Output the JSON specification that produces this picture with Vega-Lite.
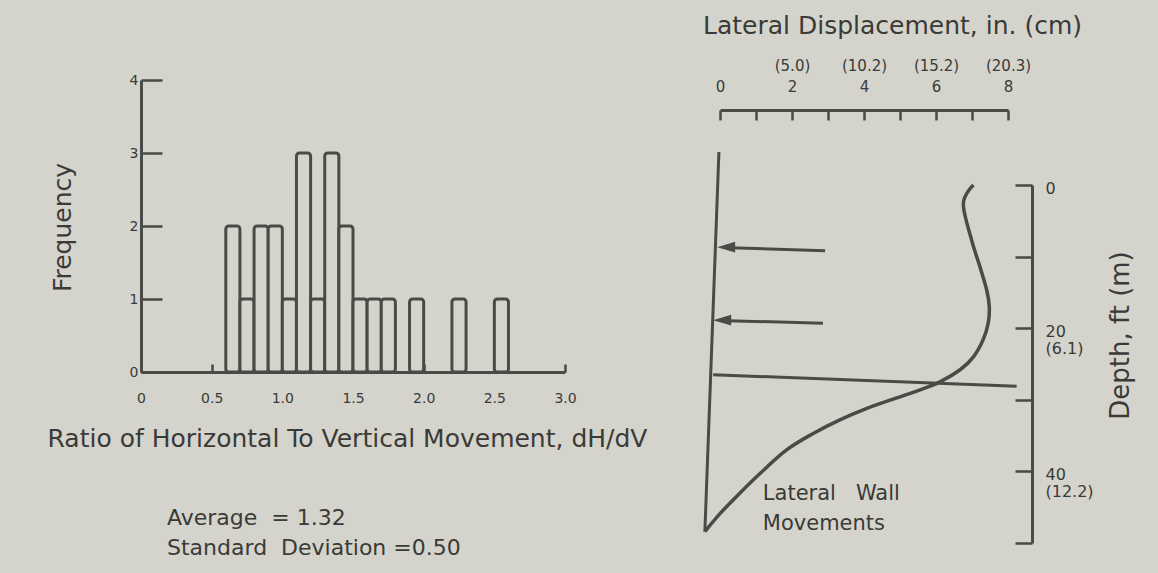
{
  "$schema": "https://vega.github.io/schema/vega-lite/v6.json",
  "width": 867,
  "height": 463,
  "autosize": "none",
  "padding": {"left": 141, "top": 80, "right": 150, "bottom": 30},
  "background": "#d4d4cc",
  "config": {
    "view": {"stroke": null},
    "font": "DejaVu Sans",
    "axis": {
      "grid": false,
      "domainColor": "#4a4a46",
      "domainWidth": 3,
      "tickColor": "#4a4a46",
      "tickWidth": 2.5,
      "labelColor": "#3a3a37",
      "titleColor": "#3a3a37",
      "labelFont": "DejaVu Sans",
      "titleFont": "DejaVu Sans",
      "labelFlush": false,
      "labelOverlap": false,
      "titleFontWeight": "normal"
    }
  },
  "datasets": {
    "bins": [
      {"lo": 0.6, "hi": 0.7, "freq": 2},
      {"lo": 0.7, "hi": 0.8, "freq": 1},
      {"lo": 0.8, "hi": 0.9, "freq": 2},
      {"lo": 0.9, "hi": 1.0, "freq": 2},
      {"lo": 1.0, "hi": 1.1, "freq": 1},
      {"lo": 1.1, "hi": 1.2, "freq": 3},
      {"lo": 1.2, "hi": 1.3, "freq": 1},
      {"lo": 1.3, "hi": 1.4, "freq": 3},
      {"lo": 1.4, "hi": 1.5, "freq": 2},
      {"lo": 1.5, "hi": 1.6, "freq": 1},
      {"lo": 1.6, "hi": 1.7, "freq": 1},
      {"lo": 1.7, "hi": 1.8, "freq": 1},
      {"lo": 1.9, "hi": 2.0, "freq": 1},
      {"lo": 2.2, "hi": 2.3, "freq": 1},
      {"lo": 2.5, "hi": 2.6, "freq": 1}
    ],
    "profile": [
      {"disp": 7.04, "depth": 0},
      {"disp": 6.76, "depth": 2.6},
      {"disp": 6.99, "depth": 7.7},
      {"disp": 7.22, "depth": 11.4},
      {"disp": 7.41, "depth": 14.7},
      {"disp": 7.48, "depth": 17.0},
      {"disp": 7.45, "depth": 19.3},
      {"disp": 7.31, "depth": 21.6},
      {"disp": 7.04, "depth": 24.0},
      {"disp": 6.67, "depth": 25.8},
      {"disp": 6.11, "depth": 27.5},
      {"disp": 5.56, "depth": 28.6},
      {"disp": 4.81, "depth": 29.9},
      {"disp": 4.08, "depth": 31.2},
      {"disp": 3.33, "depth": 32.8},
      {"disp": 2.59, "depth": 34.7},
      {"disp": 1.85, "depth": 37.0},
      {"disp": 1.11, "depth": 40.3},
      {"disp": 0.46, "depth": 43.5},
      {"disp": 0.0, "depth": 45.9},
      {"disp": -0.42, "depth": 48.4}
    ],
    "lines": [
      {"part": "wall", "disp": -0.03, "depth": -4.6, "disp2": -0.42, "depth2": 48.4},
      {"part": "excavation", "disp": -0.19, "depth": 26.5, "disp2": 8.24, "depth2": 28.1},
      {"part": "arrow 1", "disp": 2.92, "depth": 9.2, "disp2": 0.3, "depth2": 8.75},
      {"part": "arrow 2", "disp": 2.86, "depth": 19.3, "disp2": 0.2, "depth2": 18.95}
    ],
    "heads": [
      {"disp": 0.17, "depth": 8.68},
      {"disp": 0.06, "depth": 18.88}
    ]
  },
  "layer": [
    {
      "layer": [
        {
          "data": {"name": "bins"},
          "mark": {"type": "bar", "fill": "#d4d4cc", "stroke": "#4a4a46", "strokeWidth": 3, "cornerRadius": 3},
          "encoding": {
            "x": {
              "field": "lo", "type": "quantitative",
              "scale": {"domain": [0, 3], "range": [0, 424], "nice": false},
              "axis": {
                "orient": "bottom", "offset": -171,
                "values": [0, 0.5, 1, 1.5, 2, 2.5, 3],
                "labelExpr": "datum.value == 0 ? '0' : format(datum.value, '.1f')",
                "tickSize": -8, "labelPadding": 27, "labelFontSize": 14,
                "title": "Ratio of Horizontal To Vertical Movement, dH/dV",
                "titleFontSize": 25, "titleX": 206, "titleY": 66,
                "titleAlign": "center", "titleBaseline": "middle"
              }
            },
            "x2": {"field": "hi"},
            "y": {
              "field": "freq", "type": "quantitative",
              "scale": {"domain": [0, 4], "range": [292, 0], "nice": false},
              "axis": {
                "orient": "left",
                "values": [0, 1, 2, 3, 4],
                "format": "d",
                "tickSize": -21, "labelPadding": 24, "labelFontSize": 14,
                "title": "Frequency",
                "titleFontSize": 25, "titleX": -79, "titleY": 147,
                "titleAngle": 270, "titleAlign": "center", "titleBaseline": "middle"
              }
            },
            "y2": {"datum": 0}
          }
        },
        {
          "data": {"values": [{"note": "stats"}]},
          "mark": {
            "type": "text", "align": "left", "baseline": "middle",
            "fontSize": 22, "lineHeight": 30, "color": "#3a3a37",
            "text": ["Average\u00a0\u00a0= 1.32", "Standard\u00a0\u00a0Deviation =0.50"]
          },
          "encoding": {
            "x": {"datum": 0.184, "type": "quantitative"},
            "y": {"datum": -2.0, "type": "quantitative"}
          }
        }
      ]
    },
    {
      "layer": [
        {
          "data": {"name": "profile"},
          "mark": {"type": "line", "interpolate": "cardinal", "stroke": "#4a4a46", "strokeWidth": 3.5},
          "encoding": {
            "x": {
              "field": "disp", "type": "quantitative",
              "scale": {"domain": [0, 8], "range": [579, 867], "nice": false, "zero": false},
              "axis": {
                "orient": "top", "offset": -30,
                "values": [0, 1, 2, 3, 4, 5, 6, 7, 8],
                "labelExpr": "datum.value == 0 ? ['', '0'] : datum.value == 2 ? ['(5.0)', '2'] : datum.value == 4 ? ['(10.2)', '4'] : datum.value == 6 ? ['(15.2)', '6'] : datum.value == 8 ? ['(20.3)', '8'] : ''",
                "tickSize": -10, "labelPadding": 47, "labelFontSize": 15, "labelLineHeight": 21,
                "title": "Lateral Displacement, in. (cm)",
                "titleFontSize": 25, "titleX": 751, "titleY": -85,
                "titleAlign": "center", "titleBaseline": "middle"
              }
            },
            "y": {
              "field": "depth", "type": "quantitative",
              "scale": {"domain": [0, 50], "range": [105, 463], "nice": false},
              "axis": {
                "orient": "right", "offset": 24,
                "values": [0, 10, 20, 30, 40, 50],
                "labelExpr": "datum.value == 0 ? '0' : datum.value == 20 ? ['20', '(6.1)'] : datum.value == 40 ? ['40', '(12.2)'] : ''",
                "tickSize": -17, "labelPadding": 30, "labelFontSize": 16, "labelLineHeight": 17,
                "labelBaseline": "top", "labelOffset": -5,
                "title": "Depth, ft (m)",
                "titleFontSize": 26, "titleX": 88, "titleY": 255,
                "titleAngle": 270, "titleAlign": "center", "titleBaseline": "middle"
              }
            },
            "order": {"field": "depth", "type": "quantitative"}
          }
        },
        {
          "data": {"name": "lines"},
          "mark": {"type": "rule", "stroke": "#4a4a46", "strokeWidth": 3},
          "encoding": {
            "x": {"field": "disp", "type": "quantitative"},
            "y": {"field": "depth", "type": "quantitative"},
            "x2": {"field": "disp2"},
            "y2": {"field": "depth2"}
          }
        },
        {
          "data": {"name": "heads"},
          "mark": {"type": "point", "shape": "M-1,0L1,-0.6L1,0.6Z", "size": 324, "filled": true, "opacity": 1, "color": "#4a4a46"},
          "encoding": {
            "x": {"field": "disp", "type": "quantitative"},
            "y": {"field": "depth", "type": "quantitative"}
          }
        },
        {
          "data": {"values": [{"note": "label"}]},
          "mark": {
            "type": "text", "align": "left", "baseline": "middle",
            "fontSize": 21, "lineHeight": 30, "color": "#3a3a37",
            "text": ["Lateral\u00a0\u00a0\u00a0Wall", "Movements"]
          },
          "encoding": {
            "x": {"datum": 1.19, "type": "quantitative"},
            "y": {"datum": 43.15, "type": "quantitative"}
          }
        }
      ]
    }
  ],
  "resolve": {
    "scale": {"x": "independent", "y": "independent"},
    "axis": {"x": "independent", "y": "independent"}
  }
}
